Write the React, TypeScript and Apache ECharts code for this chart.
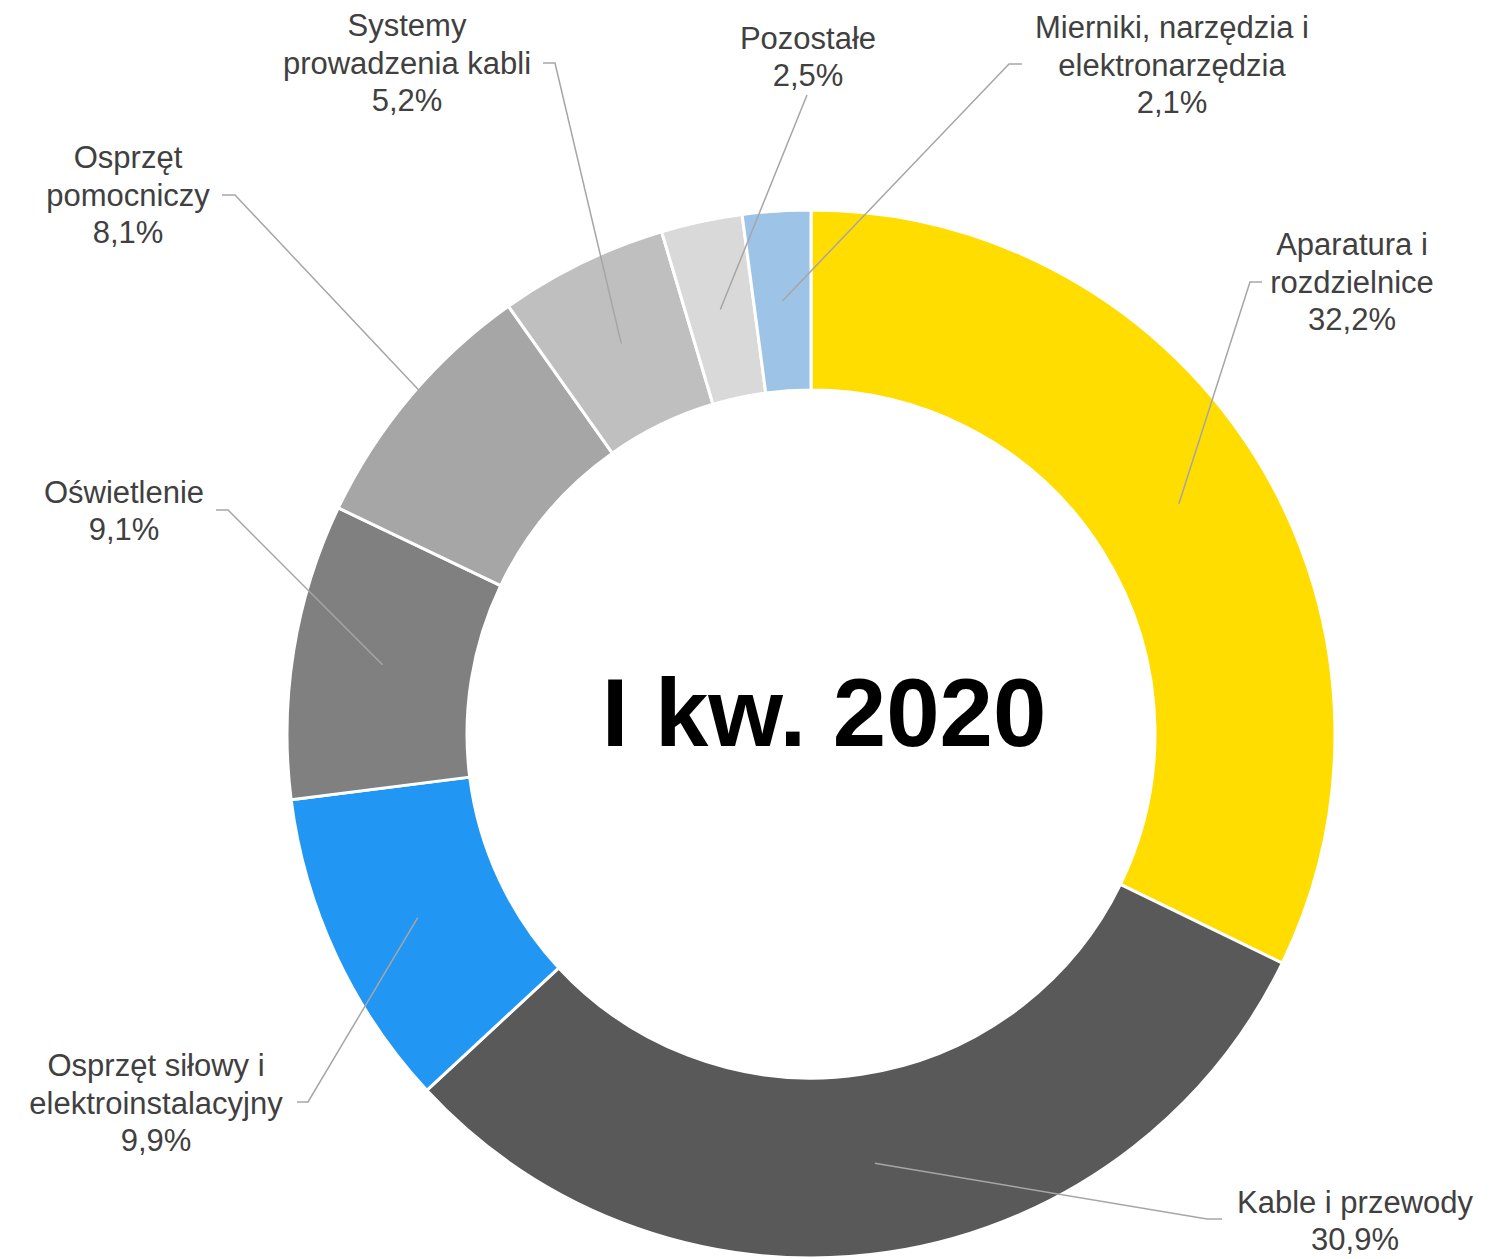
import React, { useEffect, useRef } from "react";
import * as echarts from "echarts";

const categories = [
  "Aparatura i\nrozdzielnice",
  "Kable i przewody",
  "Osprzęt siłowy i\nelektroinstalacyjny",
  "Oświetlenie",
  "Osprzęt\npomocniczy",
  "Systemy\nprowadzenia kabli",
  "Pozostałe",
  "Mierniki, narzędzia i\nelektronarzędzia",
];
const shares = [32.2, 30.9, 9.9, 9.1, 8.1, 5.2, 2.5, 2.1];
const colors = ["#FFDD00", "#595959", "#2196F3", "#808080", "#A6A6A6", "#BFBFBF", "#D9D9D9", "#9DC3E6"];
const centerTitle = "I kw. 2020";

// label layout (positions only)
const labelPos: [number, number][] = [
  [1352, 282],
  [1355, 1221],
  [156, 1103],
  [124, 511],
  [128, 195],
  [407, 63],
  [808, 57],
  [1172, 65],
];
// elbow and end points of leader lines
const leaderEnds: [number, number][][] = [
  [[1250, 282], [1262, 282]],
  [[1207, 1219], [1222, 1219]],
  [[308, 1102], [297, 1102]],
  [[228, 510], [216, 510]],
  [[235, 195], [222, 195]],
  [[555, 63], [543, 63]],
  [[807, 95], [807, 95]],
  [[1009, 64], [1022, 64]],
];

const CX = 811;
const CY = 734;
const R_IN = 344;
const R_OUT = 524;

export default function App() {
  const ref = useRef<HTMLDivElement>(null);
  useEffect(() => {
    if (!ref.current) return;
    const chart = echarts.init(ref.current, null, { renderer: "svg" });
    const total = shares.reduce((a, b) => a + b, 0);
    const midR = (R_IN + R_OUT) / 2;
    let cum = 0;
    const starts = shares.map((v) => {
      const f = (cum + v / 2) / total;
      cum += v;
      const th = ((90 - f * 360) * Math.PI) / 180;
      return [CX + midR * Math.cos(th), CY - midR * Math.sin(th)];
    });
    const leaders = starts.map((s, i) => ({
      type: "polyline",
      z: 100,
      silent: true,
      shape: { points: [s, leaderEnds[i][0], leaderEnds[i][1]] },
      style: { stroke: "#A6A6A6", lineWidth: 1.5, fill: "none" },
    }));
    chart.setOption({
      animation: false,
      backgroundColor: "#ffffff",
      series: [
        {
          type: "pie",
          center: [CX, CY],
          radius: [R_IN, R_OUT],
          startAngle: 90,
          clockwise: true,
          avoidLabelOverlap: false,
          color: colors,
          itemStyle: { borderColor: "#ffffff", borderWidth: 3 },
          data: categories.map((c, i) => ({ name: c, value: shares[i] })),
          label: {
            show: true,
            position: "outside",
            formatter: (p: any) => `${p.name}\n${p.value.toFixed(1).replace(".", ",")}%`,
            fontFamily: "Liberation Sans, Arial, sans-serif",
            fontSize: 31,
            lineHeight: 37.5,
            color: "#404040",
            align: "center",
          },
          labelLine: { show: false },
          labelLayout: (params: any) => {
            const i = params.dataIndex;
            return {
              x: labelPos[i][0],
              y: labelPos[i][1],
              align: "center",
              verticalAlign: "middle",
            };
          },
          emphasis: { disabled: true },
        },
      ],
      graphic: [
        ...leaders,
        {
          type: "text",
          x: 824,
          y: 712,
          style: {
            text: centerTitle,
            fontFamily: "Liberation Sans, Arial, sans-serif",
            fontWeight: "bold",
            fontSize: 96,
            fill: "#000000",
            align: "center",
            verticalAlign: "middle",
          },
        },
      ],
    });
    return () => chart.dispose();
  }, []);
  return (
    <div
      ref={ref}
      style={{ position: "fixed", left: 0, top: 0, width: 1503, height: 1259 }}
    />
  );
}
